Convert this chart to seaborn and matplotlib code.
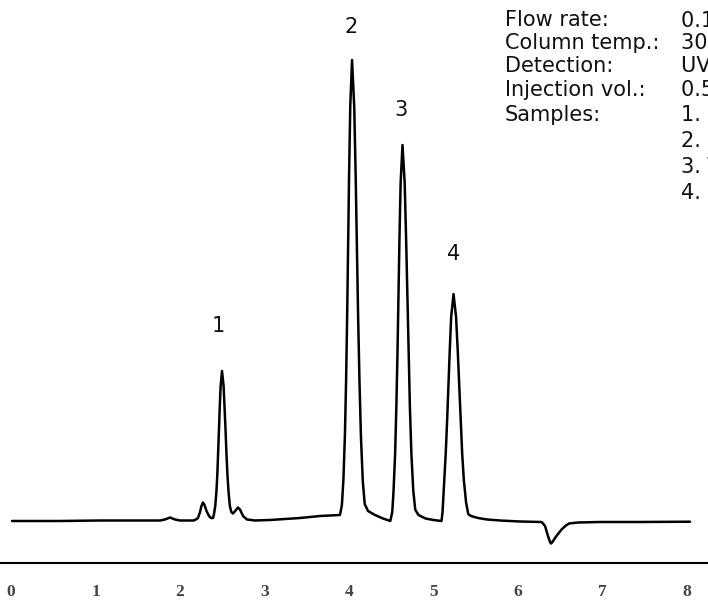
import matplotlib
matplotlib.use("Agg")
import matplotlib.pyplot as plt
import seaborn as sns
import pandas as pd

# ---- chromatogram trace (time in min, signal in arbitrary units)
time_min = [
    0.012, 0.580, 1.053, 1.527, 1.763, 1.822, 1.882, 1.941, 2.000, 2.154,
    2.178, 2.213, 2.237, 2.254, 2.272, 2.290, 2.314, 2.343, 2.367, 2.391,
    # peak 1
    2.403, 2.417, 2.431, 2.442, 2.452, 2.461, 2.470, 2.481, 2.497,
    2.516, 2.528, 2.539, 2.549, 2.561, 2.574, 2.590, 2.607,
    2.627, 2.663, 2.686, 2.710, 2.746, 2.793, 2.888, 3.065, 3.420, 3.657, 3.870, 3.893,
    # peak 2
    3.916, 3.934, 3.952, 3.966, 3.979, 3.990, 4.001, 4.015, 4.036,
    4.062, 4.079, 4.093, 4.107, 4.124, 4.141, 4.163, 4.186,
    4.225, 4.308, 4.402, 4.489,
    # peak 3
    4.512, 4.527, 4.546, 4.560, 4.574, 4.585, 4.597, 4.611, 4.633,
    4.659, 4.676, 4.691, 4.705, 4.721, 4.738, 4.761, 4.784,
    4.822, 4.905, 5.000, 5.095,
    # peak 4
    5.107, 5.118, 5.130, 5.145, 5.162, 5.177, 5.192, 5.209, 5.237,
    5.267, 5.287, 5.304, 5.320, 5.339, 5.359, 5.386, 5.412,
    5.444, 5.527, 5.633, 5.787, 6.024, 6.272,
    # negative dip
    6.284, 6.320, 6.355, 6.379, 6.391, 6.408, 6.438, 6.473, 6.521, 6.568,
    6.604, 6.710, 6.970, 7.444, 8.036,
]
signal = [
    -1, -1, -0.5, -0.5, -0.5, 0.5, 2.5, 0.5, -0.5, -0.5,
    0, 2, 8, 14, 17.5, 15, 9, 4, 2, 2,
    6.4, 13.8, 28.5, 46, 68, 90, 112, 134, 149,
    134, 112, 90, 68, 46, 28.5, 14, 8,
    6.5, 10, 12.5, 10.5, 4, 0.5, -0.5, 0, 2, 4, 5, 5,
    15, 40.5, 86, 141, 209, 278, 346, 414, 460,
    413, 344, 276, 207, 139, 84, 39, 16,
    9, 5, 1.5, -1,
    8, 29, 66.7, 111.8, 168, 224.6, 281, 337, 375,
    337, 281, 224.6, 168, 111.8, 66.7, 29, 10.3,
    5, 1.5, 0, -1,
    8, 25, 45, 67, 101, 135, 169, 203, 226,
    203, 169, 135, 101, 67.1, 39.9, 17.2, 5.8,
    4, 2, 0.5, -0.5, -1.5, -2,
    -2.3, -6, -16, -22, -23.5, -22, -18, -14, -9, -5.5,
    -3.5, -2.5, -2, -2, -1.7,
]

# peak labels
peak_names = ["1", "2", "3", "4"]
peak_label_t = [2.455, 4.030, 4.615, 5.243]
peak_label_y = [193.5, 493, 409.5, 265.5]

# x tick labels
tick_values = [0, 1, 2, 3, 4, 5, 6, 7, 8]

# conditions text (clipped at the right edge in the original)
cond_labels = ["Flow rate:", "Column temp.:", "Detection:", "Injection vol.:", "Samples:", "", "", ""]
cond_values = ["0.1 mL/min", "30 \u00b0C", "UV 254 nm", "0.5 \u00b5L",
               "1. Uracil", "2. Phenol", "3. Toluene", "4. Naphthalene"]

df = pd.DataFrame({"time": time_min, "signal": signal})

sns.set_theme(style="white")
plt.rcParams["font.family"] = ["DejaVu Sans"]

W, H = 708, 605
fig = plt.figure(figsize=(W / 100, H / 100), dpi=100)
spine_y = 563
ax = fig.add_axes([0, (H - spine_y) / H, 1, spine_y / H])

sns.lineplot(data=df, x="time", y="signal", ax=ax, color="black",
             linewidth=1.8, sort=False, estimator=None)

x0_px, px_per_min = 11, 84.5
ax.set_xlim(-x0_px / px_per_min, (W - x0_px) / px_per_min)
ax.set_ylim(520 - spine_y, 520)

for s in ["top", "left", "right"]:
    ax.spines[s].set_visible(False)
ax.spines["bottom"].set_color("black")
ax.spines["bottom"].set_linewidth(1.5)

ax.set_xticks(tick_values)
ax.set_xticklabels([str(v) for v in tick_values], fontfamily="Liberation Serif",
                   fontweight="bold", fontsize=12.5, color="#444444")
ax.tick_params(axis="x", length=0, pad=15)
ax.set_yticks([])
ax.set_xlabel("")
ax.set_ylabel("")

for name, t, y in zip(peak_names, peak_label_t, peak_label_y):
    ax.text(t, y, name, ha="center", va="center", fontsize=15, color="#111111")

baselines = [26, 49, 72, 96, 121, 147, 173, 199]
for lab, val, b in zip(cond_labels, cond_values, baselines):
    if lab:
        fig.text(505 / W, 1 - b / H, lab, ha="left", va="baseline", fontsize=15, color="#111111")
    fig.text(681 / W, 1 - b / H, val, ha="left", va="baseline", fontsize=15, color="#111111")

fig.savefig("out.png", dpi=100)
